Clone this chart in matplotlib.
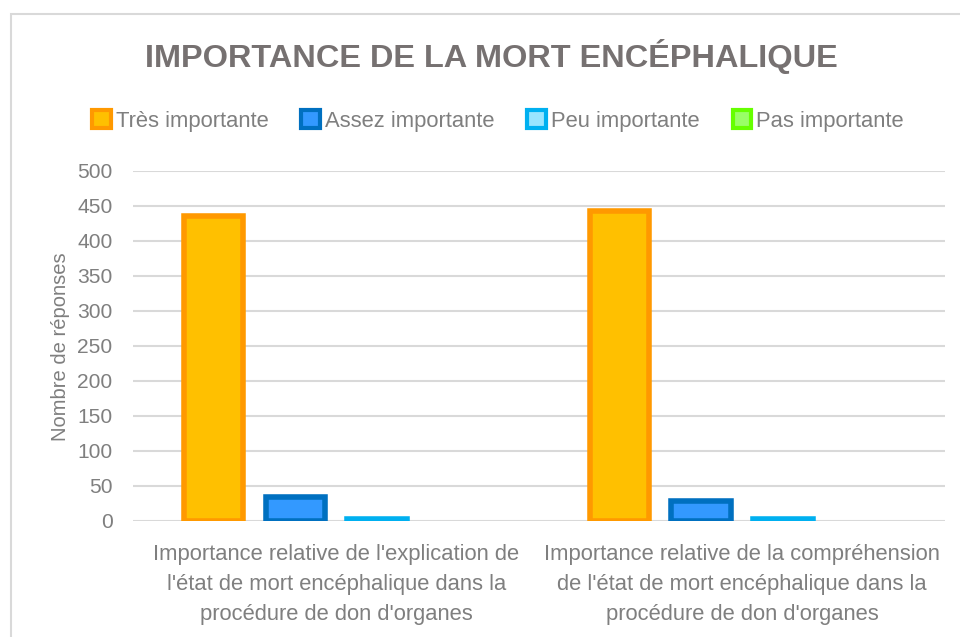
import matplotlib
matplotlib.use("Agg")
import matplotlib.pyplot as plt
from matplotlib.patches import Rectangle, Patch
import numpy as np

plt.rcParams['font.family'] = ['Liberation Sans', 'DejaVu Sans']

categories = [
    "Importance relative de l'explication de\nl'état de mort encéphalique dans la\nprocédure de don d'organes",
    "Importance relative de la compréhension\nde l'état de mort encéphalique dans la\nprocédure de don d'organes",
]
series = ["Très importante", "Assez importante", "Peu importante", "Pas importante"]
values = {
    "Très importante": [435, 443],
    "Assez importante": [34, 28],
    "Peu importante": [3, 2],
    "Pas importante": [0, 0],
}
yticks = [0, 50, 100, 150, 200, 250, 300, 350, 400, 450, 500]
title = "IMPORTANCE DE LA MORT ENCÉPHALIQUE"
ylabel = "Nombre de réponses"

fills = ["#FFC000", "#3399FF", "#99E5FF", "#99FF66"]
edges = ["#FF9900", "#0070C0", "#00B0F0", "#66FF00"]
text_col = "#7F7F7F"

W, H = 960, 637
fig = plt.figure(figsize=(W / 100, H / 100), dpi=100)
ax = fig.add_axes([133.3 / W, 1 - 520.7 / H, (945 - 133.3) / W, (520.7 - 170.7) / H])

x = np.arange(len(categories))
slot = 0.2013
bw = 0.1466
for i, s in enumerate(series):
    off = (i - 1.5) * slot
    vals = values[s]
    lws = [4 if v > 0 else 0 for v in vals]
    ax.bar(x + off, vals, width=bw, color=fills[i], edgecolor=edges[i],
           linewidth=lws, label=s, zorder=3)

ax.set_xlim(-0.5, 1.5)
ax.set_ylim(0, 500)
ax.set_yticks(yticks)
ax.set_yticklabels([str(v) for v in yticks])
ax.yaxis.grid(True, color="#D9D9D9", linewidth=1.5, zorder=0)
ax.set_axisbelow(True)
for sp in ax.spines.values():
    sp.set_visible(False)
ax.tick_params(axis='y', length=0, pad=15, labelsize=15.1, labelcolor=text_col)
ax.set_xticks(x)
ax.set_xticklabels(categories, fontsize=15.8, color=text_col, linespacing=1.55)
ax.tick_params(axis='x', length=0, pad=17)

fig.text(60 / W, 1 - 347 / H, ylabel, rotation=90, ha='center', va='center',
         fontsize=14.5, color=text_col)

fig.text(491 / W, 1 - 56 / H, title, ha='center', va='center', fontsize=23.4,
         fontweight='bold', color="#767171")

handles = [Patch(facecolor=fills[i], edgecolor=edges[i], linewidth=3) for i in range(4)]
fig.legend(handles, series, loc='center', bbox_to_anchor=(498 / W, 1 - 121 / H), ncol=4,
           frameon=False, fontsize=15.8, labelcolor=text_col, handlelength=0.85,
           handleheight=0.85, handletextpad=0.23, columnspacing=1.5, borderaxespad=0)

fig.patches.append(Rectangle((11 / W, -0.1), 1.2, 1 - 14 / H + 0.1, transform=fig.transFigure,
                             fill=False, edgecolor="#D9D9D9", linewidth=1.5))

fig.savefig("out.png", dpi=100)
